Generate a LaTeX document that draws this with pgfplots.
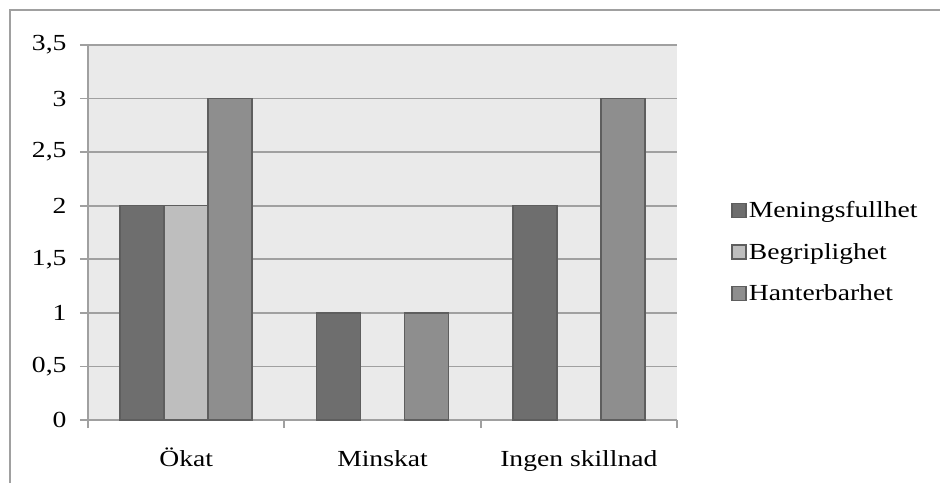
\documentclass[border=0pt]{standalone}
\usepackage{pgfplots}
\pgfplotsset{compat=1.18}
\usetikzlibrary{calc}
\usepackage{fontspec}
\setmainfont{Liberation Serif}[FakeStretch=1.2]
\definecolor{bgc}{HTML}{EAEAEA}
\definecolor{gridc}{HTML}{A0A0A0}
\definecolor{edgec}{HTML}{5E5E5E}
\definecolor{cA}{HTML}{6E6E6E}
\definecolor{cB}{HTML}{BEBEBE}
\definecolor{cC}{HTML}{8E8E8E}
\begin{document}
\begin{tikzpicture}
\begin{axis}[
  scale only axis, width=589pt, height=375pt,
  xmin=-0.5, xmax=2.5, ymin=0, ymax=3.5,
  ybar=0pt, bar width=44pt,
  axis background/.style={fill=bgc},
  axis x line*=bottom, axis y line*=left,
  axis line style={gridc, line width=1.8pt, -},
  xtick={0,1,2}, xticklabels={Ökat,Minskat,Ingen skillnad},
  major x tick style={draw=none},
  minor xtick={-0.5,0.5,1.5,2.5},
  minor x tick style={gridc, line width=1.8pt},
  minor tick length=8pt,
  ytick={0,0.5,...,3.5},
  major tick length=8pt,
  tick align=outside,
  ytick style={gridc, line width=1.8pt},
  ymajorgrids, major grid style={gridc, line width=1.8pt},
  /pgf/number format/assume math mode=true,
  /pgf/number format/use comma,
  tick label style={font=\fontsize{23}{27}\selectfont},
  xticklabel style={anchor=base, yshift=-38pt},
  yticklabel style={xshift=-10pt},
  legend style={at={(1.092,0.448)}, anchor=west, draw=none, fill=none,
    font=\fontsize{23}{27}\selectfont, row sep=20pt, inner sep=0pt,
    legend cell align=left,
    /tikz/every even column/.append style={column sep=3pt}},
  legend image code/.code={\draw[#1, line width=1.5pt] (0pt,-7pt) rectangle (14pt,7pt);},
  clip=false,
]
\addplot[fill=cA, draw=edgec, line width=1.5pt] coordinates {(0,2) (1,1) (2,2)};
\addplot[fill=cB, draw=edgec, line width=1.5pt] coordinates {(0,2)};
\addplot[fill=cC, draw=edgec, line width=1.5pt] coordinates {(0,3) (1,1) (2,3)};
\legend{Meningsfullhet,Begriplighet,Hanterbarhet}
\coordinate (ll) at (rel axis cs:0,0);
\end{axis}
\pgfresetboundingbox
\useasboundingbox ($(ll)+(-88pt,-63pt)$) rectangle ($(ll)+(852pt,420pt)$);
\draw[gridc, line width=2pt] ($(ll)+(-78pt,-63pt)$) -- ($(ll)+(-78pt,410pt)$) -- ($(ll)+(852pt,410pt)$);
\end{tikzpicture}
\end{document}
